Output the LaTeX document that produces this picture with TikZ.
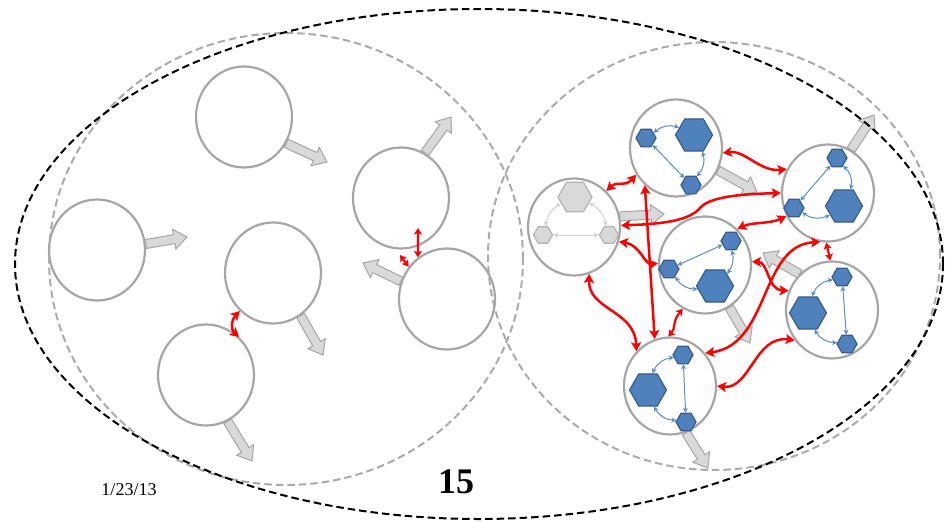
\documentclass[tikz,border=0pt]{standalone}
\usepackage{fontspec}
\setmainfont{Liberation Serif}
\usetikzlibrary{shapes.geometric,arrows.meta,calc}
\definecolor{cgray}{HTML}{A6A6A6}
\definecolor{fatfill}{HTML}{D9D9D9}
\definecolor{hexblue}{HTML}{4F81BD}
\definecolor{hexedge}{HTML}{385D8A}
\definecolor{arrblue}{HTML}{5B8DCB}
\definecolor{hexgray}{HTML}{D9D9D9}
\definecolor{hexgrayedge}{HTML}{B3B3B3}
\definecolor{arrgray}{HTML}{D3D3D3}
\definecolor{dashgray}{HTML}{ABABAB}
\newcommand{\fatarrow}[2]{%
  \coordinate (fas) at (#1);
  \coordinate (fae) at (#2);
  \coordinate (fah) at ($(fae)!13pt!(fas)$);
  \draw[fatstyle] ($(fas)!4.5pt!90:(fae)$) -- ($(fah)!4.5pt!-90:(fas)$) -- ($(fah)!10pt!-90:(fas)$) -- (fae) -- ($(fah)!10pt!90:(fas)$) -- ($(fah)!4.5pt!90:(fas)$) -- ($(fas)!4.5pt!-90:(fae)$) -- cycle;}
\begin{document}
\begin{tikzpicture}[x=1pt,y=-1pt,
  lcell/.style={ellipse, draw=cgray, line width=2.2pt, fill=white, minimum width=96pt, minimum height=101pt, inner sep=0pt},
  rcell/.style={ellipse, draw=cgray, line width=2.2pt, fill=white, minimum width=92pt, minimum height=97pt, inner sep=0pt},
  fatstyle/.style={fill=fatfill, draw=cgray, line width=1pt, line join=miter},
  bighex/.style={regular polygon, regular polygon sides=6, minimum size=37pt, inner sep=0pt, fill=hexblue, draw=hexedge, line width=1.2pt},
  smallhex/.style={regular polygon, regular polygon sides=6, minimum size=20pt, inner sep=0pt, fill=hexblue, draw=hexedge, line width=1.2pt},
  gbighex/.style={regular polygon, regular polygon sides=6, minimum size=34pt, inner sep=0pt, fill=hexgray, draw=hexgrayedge, line width=1.2pt},
  gsmallhex/.style={regular polygon, regular polygon sides=6, minimum size=19pt, inner sep=0pt, fill=hexgray, draw=hexgrayedge, line width=1.2pt},
  inner/.style={draw=arrblue, line width=1pt, {Stealth[length=5pt,width=5pt]}-{Stealth[length=5pt,width=5pt]}},
  ginner/.style={draw=arrgray, line width=1pt, {Stealth[length=5pt,width=5pt]}-{Stealth[length=5pt,width=5pt]}},
  rel/.style={draw=red, line width=2.5pt, {Stealth[length=9pt,width=10pt,inset=2pt]}-{Stealth[length=9pt,width=10pt,inset=2pt]}},
  relsmall/.style={draw=red, line width=2.2pt, {Stealth[length=6.5pt,width=8pt,inset=1.5pt]}-{Stealth[length=6.5pt,width=8pt,inset=1.5pt]}},
  blackdash/.style={draw=black, line width=2pt, dash pattern=on 7.5pt off 4pt},
  graydash/.style={draw=dashgray, line width=2pt, dash pattern=on 7.5pt off 4pt}]
\useasboundingbox (0,0) rectangle (946,522);

% cells, left group
\node[lcell] (C1) at (244,117) {};
\node[lcell] (C2) at (97,250) {};
\node[lcell] (C3) at (273,273) {};
\node[lcell] (C4) at (206,375) {};
\node[lcell] (C5) at (401,198) {};
\node[lcell] (C6) at (447,299) {};
% cells, right group
\node[rcell] (R0) at (574,227) {};
\node[rcell] (R1) at (676,148) {};
\node[rcell] (R2) at (828,193) {};
\node[rcell] (R3) at (705,265) {};
\node[rcell] (R4) at (832,310) {};
\node[rcell] (R5) at (670,386) {};

% tips of the fat arrows
\coordinate (t1) at (327,162);
\coordinate (t2) at (187,237);
\coordinate (t3) at (323,355);
\coordinate (t4) at (252,461);
\coordinate (t5) at (451,117);
\coordinate (t6) at (363,263);
\coordinate (u0) at (664,214);
\coordinate (u1) at (757,192);
\coordinate (u2) at (874,115);
\coordinate (u3) at (750,343);
\coordinate (u4) at (763,253);
\coordinate (u5) at (708,468);
\fatarrow{C1.-32}{t1}
\fatarrow{C2.7}{t2}
\fatarrow{C3.-57}{t3}
\fatarrow{C4.-65}{t4}
\fatarrow{C5.62}{t5}
\fatarrow{C6.159}{t6}
\fatarrow{R0.13}{u0}
\fatarrow{R1.-28}{u1}
\fatarrow{R2.62}{u2}
\fatarrow{R3.-60}{u3}
\fatarrow{R4.132}{u4}
\fatarrow{R5.-71}{u5}

% dashed groups
\draw[graydash] (286,259) ellipse [x radius=237pt, y radius=226pt];
\draw[graydash] (714,256) ellipse [x radius=226pt, y radius=214pt];
\draw[blackdash] (479,264) ellipse [x radius=464pt, y radius=255pt];

% hexagons
\node[gbighex] (b0) at (575,197) {};
\node[gsmallhex] (sl0) at (543,235) {};
\node[gsmallhex] (sr0) at (609,235) {};
\node[smallhex] (s1a) at (646,138) {};
\node[bighex] (b1) at (694,135) {};
\node[smallhex] (s1b) at (691,185) {};
\node[smallhex] (st2) at (837,158) {};
\node[smallhex] (sl2) at (794,208) {};
\node[bighex] (b2) at (844,206) {};
\node[smallhex] (st3) at (731,241) {};
\node[smallhex] (sl3) at (669,269) {};
\node[bighex] (b3) at (715,286) {};
\node[smallhex] (st4) at (842,277) {};
\node[bighex] (b4) at (808,313) {};
\node[smallhex] (sb4) at (847,344) {};
\node[smallhex] (st5) at (683,355) {};
\node[bighex] (b5) at (648,390) {};
\node[smallhex] (sb5) at (686,422) {};

% inner links
\draw[ginner] (b0) to[bend right=25] (sl0);
\draw[ginner] (b0) to[bend left=25] (sr0);
\draw[ginner] (sl0) -- (sr0);
\draw[inner] (s1a) to[bend left=30] (b1);
\draw[inner] (s1a) -- (s1b);
\draw[inner] (b1) to[bend left=30] (s1b);
\draw[inner] (st2) -- (sl2);
\draw[inner] (st2) to[bend left=30] (b2);
\draw[inner] (sl2) to[bend right=30] (b2);
\draw[inner] (sl3) -- (st3);
\draw[inner] (st3) to[bend left=25] (b3);
\draw[inner] (sl3) to[bend right=30] (b3);
\draw[inner] (b4) to[bend left=30] (st4);
\draw[inner] (st4) -- (sb4);
\draw[inner] (b4) to[bend right=30] (sb4);
\draw[inner] (b5) to[bend left=30] (st5);
\draw[inner] (st5) -- (sb5);
\draw[inner] (b5) to[bend right=30] (sb5);

% red relations, left
\coordinate (c5in) at (418,228);
\coordinate (tiny) at (400,255);
\draw[rel] (C3.229) .. controls (231,320) and (231,330) .. (C4.49);
\draw[relsmall] (C6.125) -- (c5in);
\draw[relsmall] (C6.140) -- (tiny);

% red relations, right
\draw[rel] (R0.48) .. controls (618,180) and (624,188) .. (R1.214);
\draw[rel] (R1.-6) .. controls (745,150) and (760,172) .. (R2.150);
\draw[rel] (R0.2) .. controls (665,224) and (690,220) .. (700,208) .. controls (710,196) and (745,194) .. (R2.180);
\draw[rel] (R3.48) .. controls (752,222) and (770,224) .. (R2.209);
\draw[rel] (R3.178) .. controls (645,265) and (640,245) .. (R0.-18);
\draw[rel] (R1.230) -- (R5.108);
\draw[rel] (R0.288) .. controls (588,310) and (635,310) .. (R5.134);
\draw[relsmall] (R5.92) .. controls (676,328) and (672,322) .. (R3.243);
\draw[rel] (R3.4) .. controls (768,262) and (768,290) .. (R4.156);
\draw[rel] (R2.261) .. controls (760,245) and (770,345) .. (R5.43);
\draw[relsmall] (R2.268) -- (R4.92);
\draw[rel] (R5.0) .. controls (750,390) and (755,335) .. (R4.219);

% texts
\node[font=\fontsize{18}{20}\selectfont, inner sep=0pt] (date) at (129,490) {1/23/13};
\node[font=\fontsize{36}{40}\selectfont\bfseries, inner sep=0pt] (num) at (456,482) {15};
\end{tikzpicture}
\end{document}
